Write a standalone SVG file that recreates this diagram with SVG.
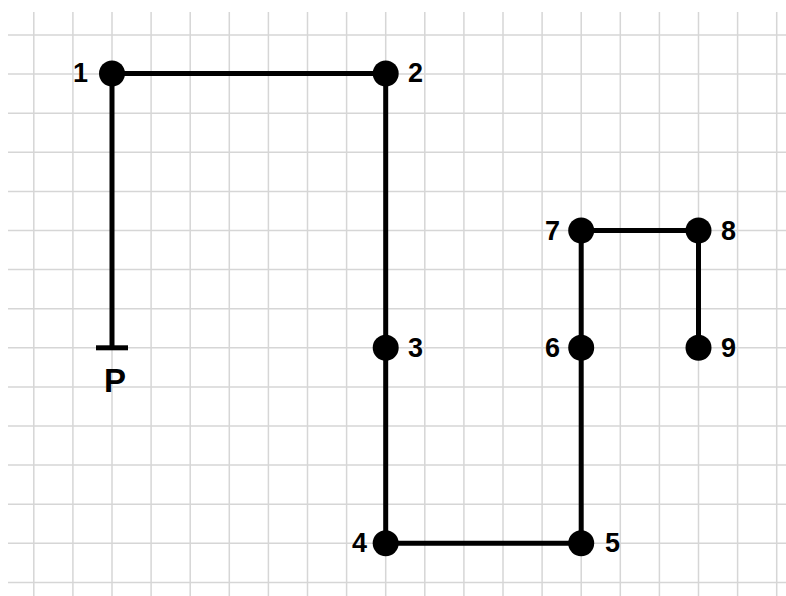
<svg xmlns="http://www.w3.org/2000/svg" width="786" height="596" viewBox="0 0 786 596">
<style>
.g{stroke:#d6d6d6;stroke-width:1.5}
.e{stroke:#000;stroke-width:5;fill:none}
.n{fill:#000}
.t{font-family:"Liberation Sans",Arial,sans-serif;font-weight:bold;font-size:27px;fill:#000}
.p{font-size:33px}
</style>
<rect width="786" height="596" fill="#fff"/>
<g id="grid">
<path class="g" d="M33.8 12V596M72.9 12V596M112 12V596M151.1 12V596M190.2 12V596M229.3 12V596M268.4 12V596M307.5 12V596M346.6 12V596M385.7 12V596M424.8 12V596M463.9 12V596M503 12V596M542.1 12V596M581.2 12V596M620.3 12V596M659.4 12V596M698.5 12V596M737.6 12V596M776.7 12V596"/>
<path class="g" d="M8 35H786M8 74.1H786M8 113.2H786M8 152.3H786M8 191.4H786M8 230.5H786M8 269.6H786M8 308.7H786M8 347.8H786M8 386.9H786M8 426H786M8 465.1H786M8 504.2H786M8 543.3H786M8 582.4H786"/>
</g>
<g id="connectors">
<path class="e" d="M112 347.8V73.5H385.7V543.3H581.2V230.5H698.5V347.8"/>
<path class="e" d="M96 347.8H128"/>
</g>
<g id="P"><text class="t p" x="115" y="392" text-anchor="middle">P</text></g>
<g id="n1"><circle class="n" cx="112" cy="73.5" r="13"/><text class="t" x="88" y="82" text-anchor="end">1</text></g>
<g id="n2"><circle class="n" cx="385.7" cy="73.5" r="13"/><text class="t" x="408" y="82">2</text></g>
<g id="n3"><circle class="n" cx="385.7" cy="347.8" r="13"/><text class="t" x="408" y="357">3</text></g>
<g id="n4"><circle class="n" cx="385.7" cy="543.3" r="13"/><text class="t" x="367" y="552" text-anchor="end">4</text></g>
<g id="n5"><circle class="n" cx="581.2" cy="543.3" r="13"/><text class="t" x="605" y="552">5</text></g>
<g id="n6"><circle class="n" cx="581.2" cy="347.8" r="13"/><text class="t" x="560" y="357" text-anchor="end">6</text></g>
<g id="n7"><circle class="n" cx="581.2" cy="230.5" r="13"/><text class="t" x="560" y="240" text-anchor="end">7</text></g>
<g id="n8"><circle class="n" cx="698.5" cy="230.5" r="13"/><text class="t" x="721" y="240">8</text></g>
<g id="n9"><circle class="n" cx="698.5" cy="347.8" r="13"/><text class="t" x="721" y="357">9</text></g>
</svg>
